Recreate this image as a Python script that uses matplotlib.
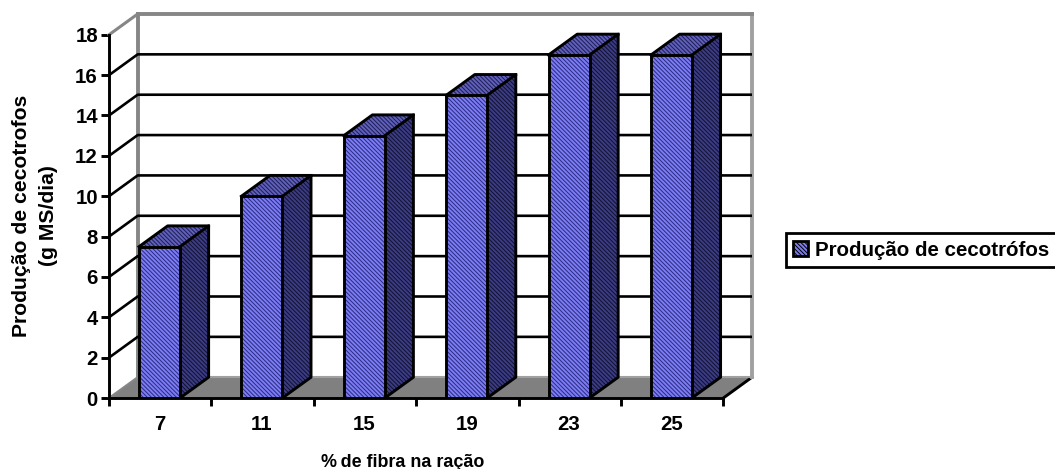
import numpy as np
import matplotlib
matplotlib.use("Agg")
import matplotlib.pyplot as plt
from matplotlib.patches import Patch

plt.rcParams['font.family'] = ['Liberation Sans', 'DejaVu Sans']
plt.rcParams['font.weight'] = 'bold'
plt.rcParams['hatch.linewidth'] = 0.7

categories = ['7', '11', '15', '19', '23', '25']
producao = [7.5, 10, 13, 15, 17, 17]
y_ticks = [0, 2, 4, 6, 8, 10, 12, 14, 16, 18]

W, H = 1055, 469
dx = 0.28    # depth of the fake 3D, in category units
dy = 1.03    # same, in y units
bar_w = 0.40
hatch = '\\' * 8
line_w = 2.1

fig = plt.figure(figsize=(W / 100, H / 100), dpi=100)
ax = fig.add_axes([109 / W, (H - 398) / H, (752 - 109) / W, (398 - 14) / H])
ax.set_xlim(0, 6 + dx)
ax.set_ylim(0, 18 + dy)

n = len(categories)
grey = '#868686'

# floor
ax.fill([0, n, n + dx, dx], [0, 0, dy, dy], facecolor='#808080', edgecolor='none', zorder=1)
ax.plot([0, dx], [0, dy], color=grey, lw=1.5, zorder=2, clip_on=False)
ax.plot([n, n + dx], [0, dy], color='black', lw=line_w, zorder=2, clip_on=False)
ax.plot([dx, n + dx], [dy, dy], color='#a0a0a0', lw=1.5, zorder=2)

# walls
ax.plot([dx, dx], [dy, 18 + dy], color=grey, lw=2.8, zorder=2, clip_on=False)
ax.plot([n + dx, n + dx], [dy, 18 + dy], color='#a0a0a0', lw=2.8, zorder=2, clip_on=False)
ax.plot([dx, n + dx], [18 + dy, 18 + dy], color=grey, lw=2.8, zorder=2, clip_on=False)
ax.plot([0, dx], [18, 18 + dy], color=grey, lw=2.2, zorder=2, clip_on=False)

# gridlines on the back and left walls
for v in y_ticks[1:-1]:
    ax.plot([0, dx, n + dx], [v, v + dy, v + dy], color='black', lw=1.9, zorder=2)

# bars, front face then side and top
centers = np.arange(n) + 0.493
for c, v in zip(centers, producao):
    x0, x1 = c - bar_w / 2, c + bar_w / 2
    ax.fill([x1, x1 + dx, x1 + dx, x1], [0, dy, v + dy, v], facecolor='#3c3c84',
            edgecolor='#101030', linewidth=0, hatch=hatch, zorder=3)
    ax.fill([x0, x1, x1 + dx, x0 + dx], [v, v, v + dy, v + dy], facecolor='#6060b8',
            edgecolor='#1c1c58', linewidth=0, hatch=hatch, zorder=3)
    ax.plot([x1, x1 + dx, x1 + dx, x1], [0, dy, v + dy, v], color='black', lw=line_w, zorder=4)
    ax.plot([x0, x0 + dx, x1 + dx], [v, v + dy, v + dy], color='black', lw=line_w, zorder=4)
    ax.bar(c, v, bar_w, facecolor='#7c7cf4', edgecolor='#2a2a80', linewidth=0, hatch=hatch, zorder=3.5)
    ax.plot([x0, x0, x1, x1, x0], [0, v, v, 0, 0], color='black', lw=line_w, zorder=4)

# axes
for s in ['top', 'right', 'bottom']:
    ax.spines[s].set_visible(False)
ax.spines['left'].set_linewidth(line_w)
ax.spines['left'].set_bounds(0, 18)
ax.plot([0, n], [0, 0], color='black', lw=line_w, zorder=5, clip_on=False)

ax.set_yticks(y_ticks)
ax.tick_params(axis='y', length=6, width=line_w, labelsize=14.7, pad=2)
ax.set_xticks(np.arange(n + 1))
ax.set_xticklabels([])
ax.tick_params(axis='x', which='major', length=6, width=line_w)
ax.set_xticks(centers, minor=True)
ax.set_xticklabels(categories, minor=True, fontsize=14.7)
ax.tick_params(axis='x', which='minor', length=0, pad=12)

ax.set_xlabel('%\u2009de fibra na ração', fontsize=12.9, fontweight='bold')
ax.xaxis.set_label_coords(0.456, -0.145)
ax.set_ylabel('Produção de cecotrofos\n(g MS/dia)', fontsize=15.2, fontweight='bold', linespacing=1.5)
ax.yaxis.set_label_coords(-0.08, 0.474)

handle = Patch(facecolor='#7c7cf4', edgecolor='black', linewidth=2, hatch=hatch)
leg = fig.legend(handles=[handle], labels=['Produção de cecotrófos'],
                 loc='center left', bbox_to_anchor=(786 / W, (H - 250) / H),
                 fontsize=14.8, fancybox=False, framealpha=1, edgecolor='black',
                 handlelength=0.72, handleheight=0.72, handletextpad=0.35, borderpad=0.35,
                 borderaxespad=0)
leg.get_frame().set_linewidth(2)

fig.savefig('out.png', dpi=100)
